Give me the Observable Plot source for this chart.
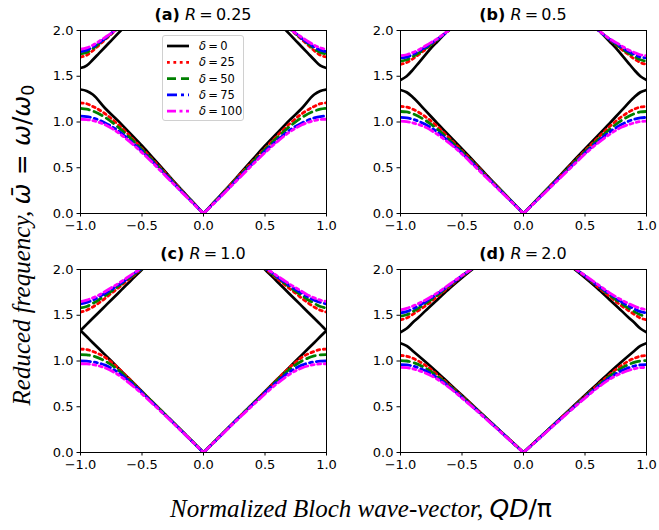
<!DOCTYPE html>
<html><head><meta charset="utf-8">
<script src="https://cdn.jsdelivr.net/npm/d3@7"></script>
<script src="https://cdn.jsdelivr.net/npm/@observablehq/plot@0.6"></script>
<style>
body{margin:0;background:#fff;}
#fig{position:relative;width:659px;height:530px;overflow:hidden;font-family:"DejaVu Sans";background:#fff;}
.panel{position:absolute;}
.title{position:absolute;font-size:16px;line-height:20px;text-align:center;width:246px;white-space:nowrap;color:#000;}
.legend{position:absolute;left:162px;top:35px;width:80px;height:84px;border:1px solid #d0d0d0;border-radius:3px;background:rgba(255,255,255,0.85);}
</style></head><body><div id="fig"></div><script>
// ---- data (values for Q >= 0; the figure is symmetric in Q) ----
const panelLabels = ["(a)", "(b)", "(c)", "(d)"];
const ratios = ["0.25", "0.5", "1.0", "2.0"];
const deltas = [0, 25, 50, 75, 100];
const colors = ["#000000", "#ff0000", "#008000", "#0000ff", "#ff00ff"];
const xTicks = [-1, -0.5, 0, 0.5, 1];
const yTicks = [0, 0.5, 1, 1.5, 2];

// lower (acoustic) branch, common Q grid
const qLower = [0, 0.1, 0.2, 0.3, 0.4, 0.5, 0.6, 0.7, 0.8, 0.9, 0.95, 1.0];
const lowerA = [
  [0, 0.145, 0.29, 0.44, 0.59, 0.74, 0.88, 1.02, 1.15, 1.30, 1.34, 1.355],
  [0, 0.14, 0.285, 0.43, 0.57, 0.71, 0.85, 0.98, 1.09, 1.17, 1.20, 1.21],
  [0, 0.14, 0.28, 0.42, 0.56, 0.70, 0.83, 0.95, 1.05, 1.12, 1.14, 1.15],
  [0, 0.135, 0.27, 0.41, 0.545, 0.68, 0.80, 0.91, 0.99, 1.045, 1.06, 1.065],
  [0, 0.13, 0.265, 0.40, 0.535, 0.665, 0.785, 0.89, 0.97, 1.015, 1.027, 1.03]
];
const lowerB = [
  [0, 0.14, 0.28, 0.42, 0.565, 0.705, 0.845, 0.985, 1.13, 1.27, 1.325, 1.35],
  [0, 0.137, 0.275, 0.41, 0.55, 0.685, 0.82, 0.95, 1.06, 1.14, 1.163, 1.17],
  [0, 0.137, 0.272, 0.405, 0.54, 0.675, 0.80, 0.92, 1.02, 1.09, 1.11, 1.115],
  [0, 0.133, 0.265, 0.40, 0.53, 0.66, 0.78, 0.89, 0.975, 1.03, 1.045, 1.05],
  [0, 0.13, 0.26, 0.39, 0.52, 0.65, 0.765, 0.865, 0.945, 0.99, 1.005, 1.01]
];
const lowerC = [
  [0, 0.133, 0.267, 0.40, 0.533, 0.667, 0.80, 0.933, 1.067, 1.20, 1.267, 1.333],
  [0, 0.133, 0.266, 0.40, 0.533, 0.665, 0.80, 0.93, 1.04, 1.105, 1.125, 1.13],
  [0, 0.133, 0.266, 0.40, 0.53, 0.66, 0.79, 0.91, 1.0, 1.055, 1.067, 1.07],
  [0, 0.13, 0.265, 0.395, 0.525, 0.655, 0.775, 0.88, 0.955, 0.99, 0.998, 1.0],
  [0, 0.13, 0.26, 0.39, 0.515, 0.64, 0.755, 0.855, 0.925, 0.96, 0.968, 0.97]
];
const lowerD = [
  [0, 0.125, 0.25, 0.375, 0.50, 0.625, 0.75, 0.875, 0.995, 1.11, 1.165, 1.195],
  [0, 0.124, 0.248, 0.372, 0.495, 0.615, 0.735, 0.85, 0.955, 1.03, 1.052, 1.06],
  [0, 0.123, 0.247, 0.37, 0.49, 0.61, 0.725, 0.835, 0.925, 0.985, 1.0, 1.005],
  [0, 0.12, 0.245, 0.365, 0.485, 0.60, 0.715, 0.815, 0.895, 0.945, 0.957, 0.96],
  [0, 0.12, 0.24, 0.36, 0.48, 0.595, 0.705, 0.80, 0.87, 0.915, 0.927, 0.93]
];

// upper (optical) branch, per-panel Q grids
const qUpperA = [0.65, 0.7, 0.75, 0.8, 0.85, 0.9, 0.95, 1.0];
const upperA = [
  [2.03, 1.96, 1.89, 1.82, 1.75, 1.68, 1.615, 1.59],
  [2.06, 2.02, 1.96, 1.90, 1.84, 1.78, 1.73, 1.71],
  [2.07, 2.02, 1.965, 1.91, 1.855, 1.80, 1.76, 1.745],
  [2.07, 2.02, 1.97, 1.915, 1.865, 1.82, 1.785, 1.77],
  [2.07, 2.02, 1.97, 1.925, 1.88, 1.84, 1.81, 1.795]
];
const qUpperB = [0.55, 0.6, 0.65, 0.7, 0.75, 0.8, 0.85, 0.9, 0.95, 1.0];
const upperB = [
  [2.09, 2.02, 1.95, 1.88, 1.81, 1.73, 1.65, 1.57, 1.50, 1.46],
  [2.07, 2.01, 1.955, 1.90, 1.845, 1.79, 1.74, 1.69, 1.65, 1.63],
  [2.07, 2.01, 1.955, 1.90, 1.85, 1.80, 1.755, 1.715, 1.68, 1.665],
  [2.07, 2.01, 1.955, 1.905, 1.86, 1.815, 1.775, 1.74, 1.71, 1.70],
  [2.07, 2.01, 1.96, 1.91, 1.87, 1.83, 1.79, 1.76, 1.735, 1.725]
];
const qUpperC = [0.45, 0.5, 0.55, 0.6, 0.65, 0.7, 0.75, 0.8, 0.85, 0.9, 0.95, 1.0];
const upperC = [
  [2.067, 2.0, 1.933, 1.867, 1.80, 1.733, 1.667, 1.60, 1.533, 1.467, 1.40, 1.333],
  [2.07, 2.01, 1.955, 1.90, 1.845, 1.79, 1.74, 1.685, 1.635, 1.59, 1.555, 1.535],
  [2.06, 2.01, 1.96, 1.91, 1.86, 1.81, 1.76, 1.715, 1.67, 1.63, 1.595, 1.58],
  [2.065, 2.015, 1.97, 1.92, 1.87, 1.825, 1.78, 1.74, 1.70, 1.665, 1.64, 1.625],
  [2.065, 2.02, 1.975, 1.93, 1.885, 1.84, 1.80, 1.76, 1.72, 1.69, 1.665, 1.65]
];
const qUpperD = [0.35, 0.4, 0.5, 0.6, 0.7, 0.8, 0.85, 0.9, 0.95, 1.0];
const upperD = [
  [2.08, 2.02, 1.91, 1.795, 1.67, 1.545, 1.48, 1.42, 1.355, 1.315],
  [2.09, 2.03, 1.925, 1.815, 1.705, 1.60, 1.555, 1.51, 1.47, 1.45],
  [2.09, 2.03, 1.93, 1.825, 1.72, 1.625, 1.58, 1.54, 1.505, 1.49],
  [2.09, 2.03, 1.93, 1.83, 1.735, 1.645, 1.605, 1.57, 1.54, 1.527],
  [2.09, 2.03, 1.935, 1.84, 1.745, 1.665, 1.63, 1.60, 1.575, 1.56]
];

const lowers = [lowerA, lowerB, lowerC, lowerD];
const uppers = [upperA, upperB, upperC, upperD];
const qUppers = [qUpperA, qUpperB, qUpperC, qUpperD];

// ---- styles ----
const dashes = [null, "2.8,3.6", "9,5", "10,4,3,4", "9,3.5,3,3.5,3,3.5"];
const widths = [2.7, 2.8, 2.8, 2.8, 2.8];

// panel plot-area origins (left, top)
const origins = [[80, 30], [400, 30], [80, 269], [400, 269]];
const ML = 50, MR = 12, MT = 8, MB = 28, PW = 246, PH = 183;

function rowsFor(p, k) {
  const rows = [];
  const addSeg = (qs, ws, seg) => {
    qs.forEach((q, j) => rows.push({q, w: ws[j], seg: seg + "R"}));
    const left = qs.map((q, j) => ({q: -q, w: ws[j], seg: seg + "L"}));
    left.sort((a, b) => a.q - b.q);
    rows.push(...left);
  };
  addSeg(qLower, lowers[p][k], "lo");
  addSeg(qUppers[p], uppers[p][k], "up");
  return rows;
}

const fig = document.getElementById("fig");
const fmt = d3.format(".1f");

for (let p = 0; p < 4; p++) {
  const lines = deltas.map((d, k) => Plot.line(rowsFor(p, k), {
    x: "q", y: "w", z: "seg",
    stroke: colors[k], strokeWidth: widths[k],
    strokeDasharray: dashes[k] || undefined,
    curve: "monotone-x", clip: true
  }));
  const chart = Plot.plot({
    width: ML + PW + MR, height: MT + PH + MB,
    marginLeft: ML, marginRight: MR, marginTop: MT, marginBottom: MB,
    x: {domain: [-1, 1]},
    y: {domain: [0, 2]},
    style: {fontFamily: "DejaVu Sans", fontSize: "13px", color: "#000", background: "transparent", overflow: "visible"},
    marks: [
      ...lines,
      Plot.frame({stroke: "#000", strokeWidth: 1}),
      Plot.axisX({ticks: xTicks, tickFormat: fmt, tickSize: 3.5, tickPadding: 4, label: null, fontSize: 13}),
      Plot.axisY({ticks: yTicks, tickFormat: fmt, tickSize: 3.5, tickPadding: 3.5, label: null, fontSize: 13})
    ]
  });
  chart.classList.add("panel");
  chart.style.left = (origins[p][0] - ML) + "px";
  chart.style.top = (origins[p][1] - MT) + "px";
  fig.appendChild(chart);

  const t = document.createElement("div");
  t.className = "title";
  t.style.left = origins[p][0] + "px";
  t.style.top = (origins[p][1] - 25.5) + "px";
  t.innerHTML = `<b>${panelLabels[p]}</b> <i>R</i>&thinsp;=&thinsp;${ratios[p]}`;
  fig.appendChild(t);
}

const ns = "http://www.w3.org/2000/svg";
function el(name, attrs, text) {
  const e = document.createElementNS(ns, name);
  for (const k in attrs) e.setAttribute(k, attrs[k]);
  if (text != null) e.textContent = text;
  return e;
}

// legend (panel a)
const legend = document.createElement("div");
legend.className = "legend";
const lsvg = el("svg", {width: 80, height: 84});
lsvg.style.position = "absolute"; lsvg.style.left = "0px"; lsvg.style.top = "0px";
deltas.forEach((d, k) => {
  const y = 10 + k * 16.3;
  const ln = el("line", {x1: 4, x2: 26, y1: y, y2: y, stroke: colors[k], "stroke-width": widths[k]});
  if (dashes[k]) ln.setAttribute("stroke-dasharray", dashes[k]);
  lsvg.appendChild(ln);
  const tx = el("text", {x: 36, y: y + 4, "font-family": "DejaVu Sans", "font-size": "11.5"});
  tx.appendChild(el("tspan", {"font-style": "italic"}, "δ"));
  tx.appendChild(el("tspan", {}, "\u2009=\u2009" + d));
  lsvg.appendChild(tx);
});
legend.appendChild(lsvg);
fig.appendChild(legend);

// axis labels (overlay svg)
const over = el("svg", {width: 659, height: 530});
over.style.position = "absolute"; over.style.left = "0px"; over.style.top = "0px";
over.style.pointerEvents = "none";
const yl = el("text", {transform: "translate(30,245) rotate(-90)", "text-anchor": "middle", "font-size": "25"});
yl.appendChild(el("tspan", {"font-family": "Liberation Serif", "font-style": "italic"}, "Reduced frequency, "));
yl.appendChild(el("tspan", {"font-family": "DejaVu Sans", "font-style": "italic"}, "ω̄"));
yl.appendChild(el("tspan", {"font-family": "DejaVu Sans"}, "\u2004=\u2004"));
yl.appendChild(el("tspan", {"font-family": "DejaVu Sans", "font-style": "italic"}, "ω"));
yl.appendChild(el("tspan", {"font-family": "DejaVu Sans"}, "/"));
yl.appendChild(el("tspan", {"font-family": "DejaVu Sans", "font-style": "italic"}, "ω"));
yl.appendChild(el("tspan", {"font-family": "DejaVu Sans", "font-size": "17.5", dy: "4"}, "0"));
over.appendChild(yl);
const xl = el("text", {x: 361, y: 517, "text-anchor": "middle", "font-size": "25"});
xl.appendChild(el("tspan", {"font-family": "Liberation Serif", "font-style": "italic"}, "Normalized Bloch wave-vector, "));
xl.appendChild(el("tspan", {"font-family": "DejaVu Sans", "font-style": "italic"}, "QD"));
xl.appendChild(el("tspan", {"font-family": "DejaVu Sans"}, "/π"));
over.appendChild(xl);
fig.appendChild(over);
</script></body></html>
